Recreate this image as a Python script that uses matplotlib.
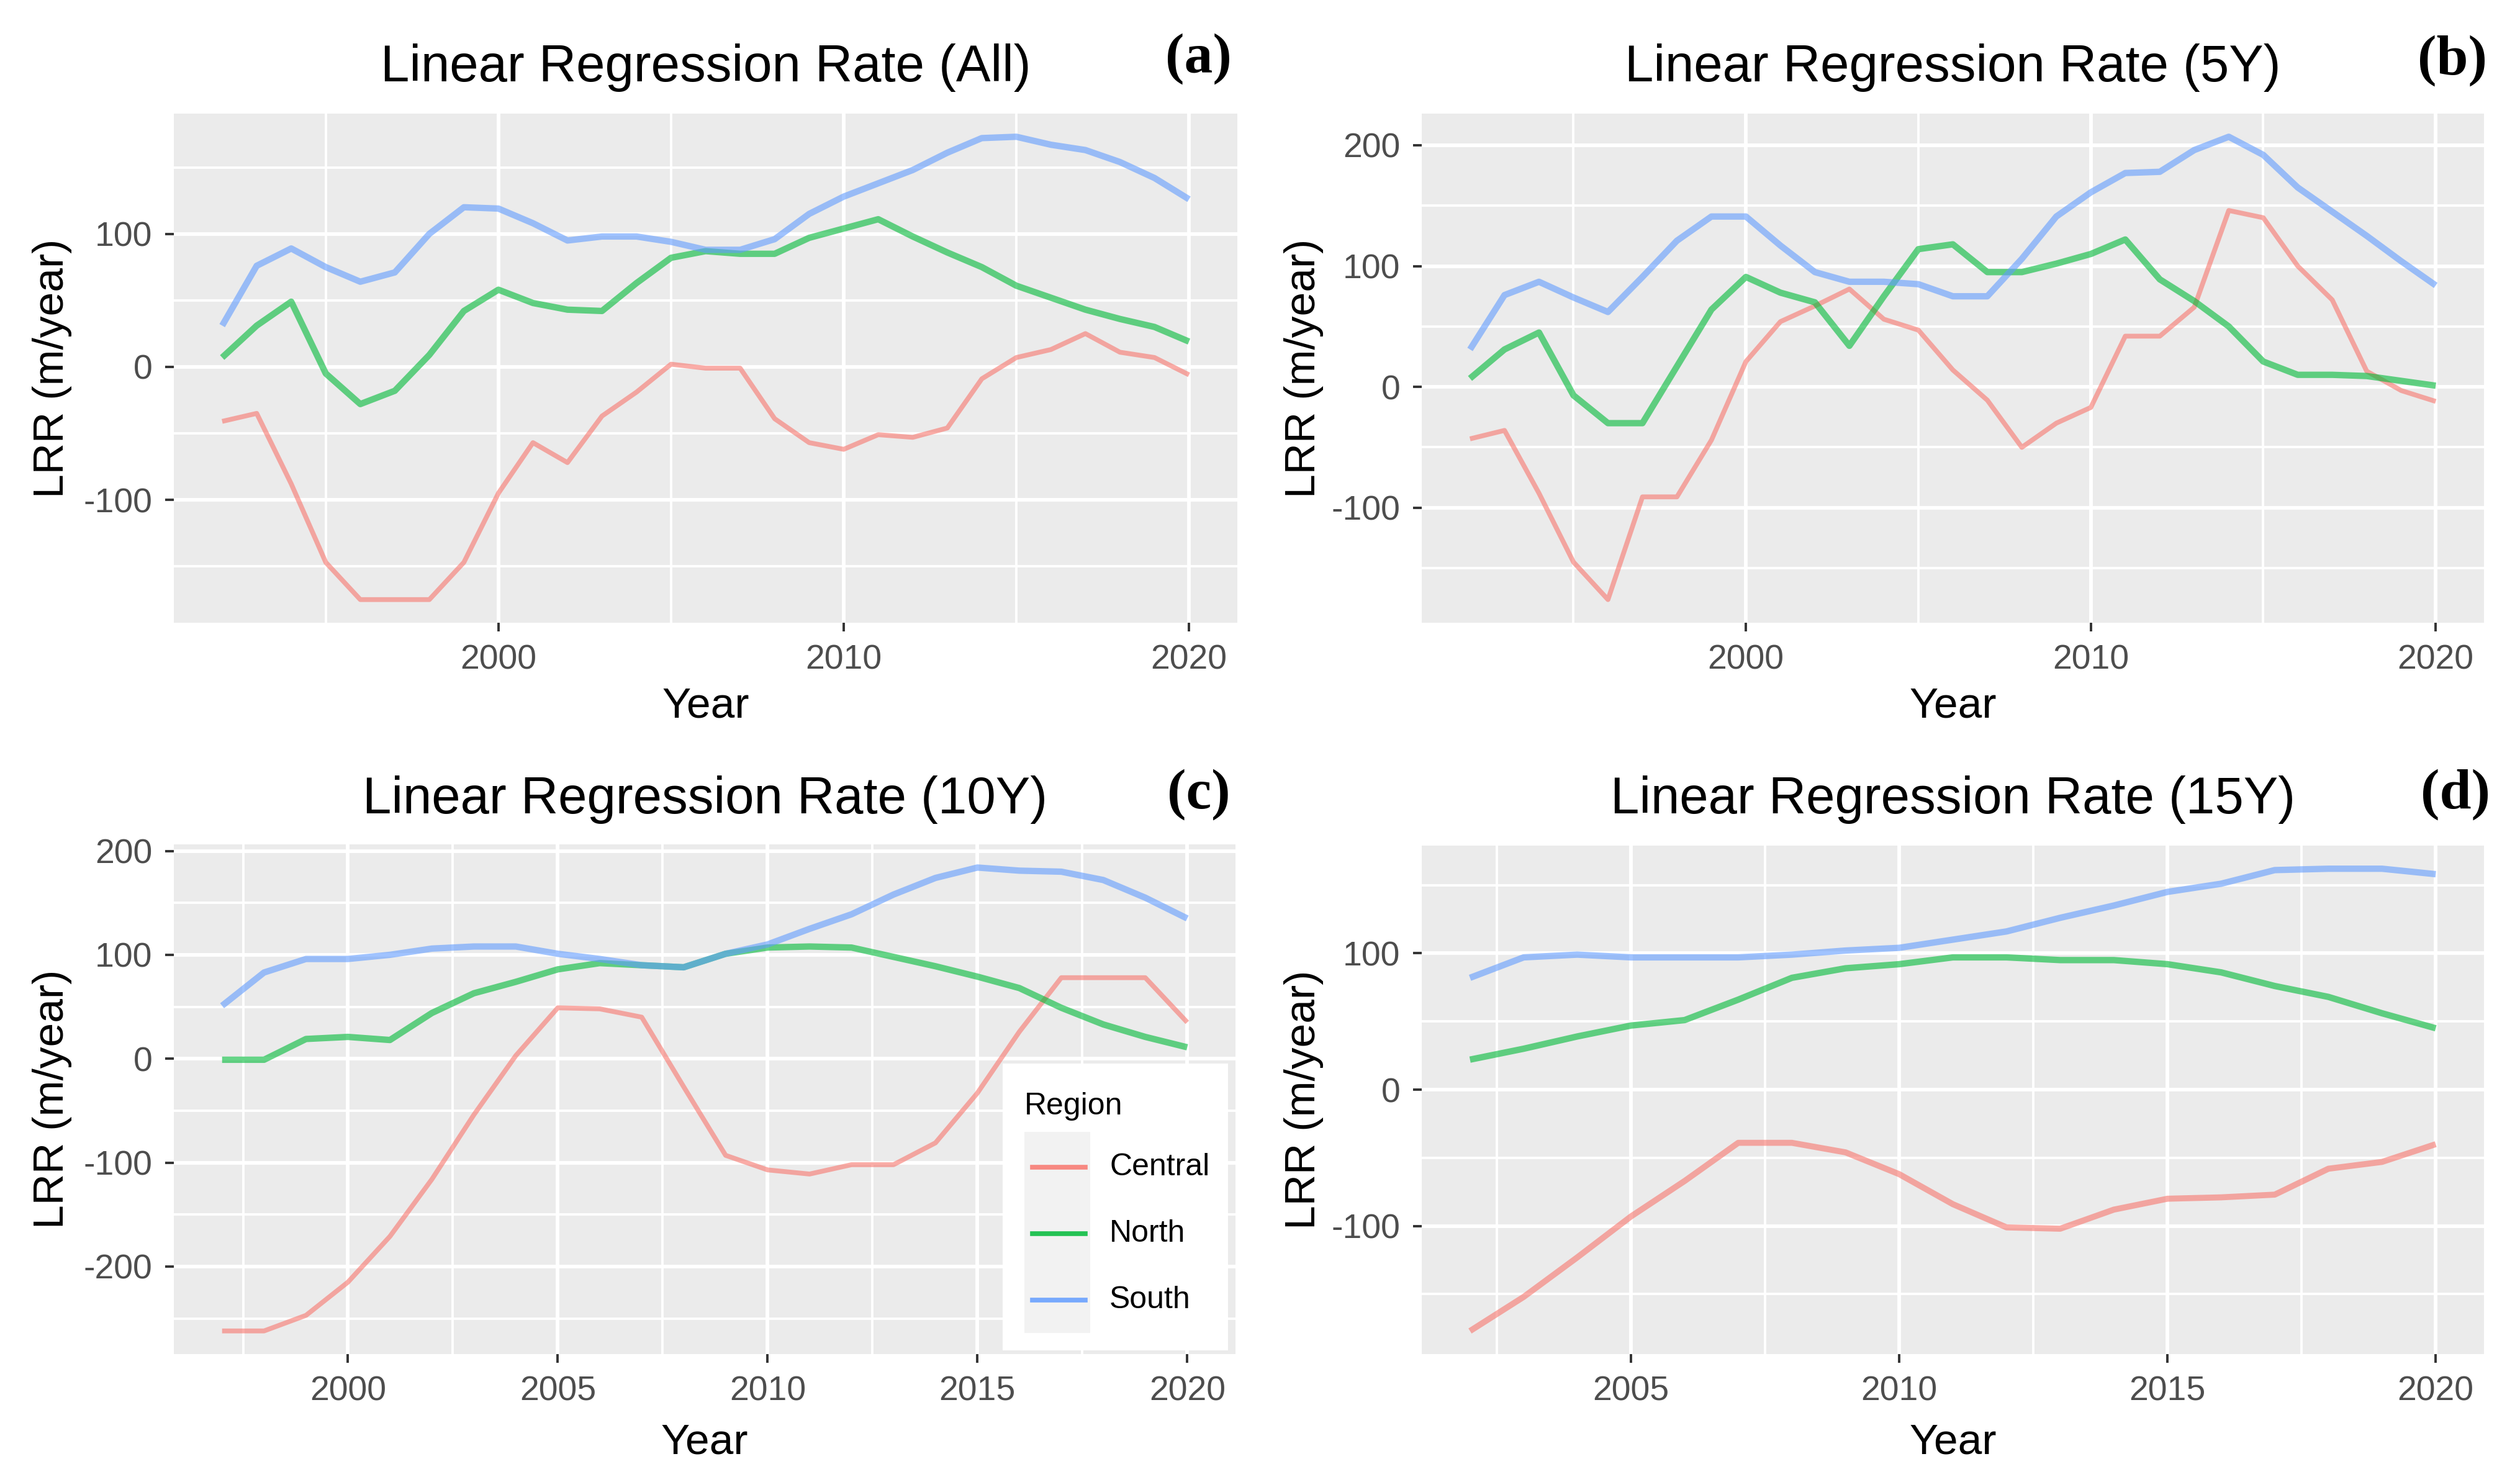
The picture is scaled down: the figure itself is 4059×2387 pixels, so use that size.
import matplotlib
matplotlib.use("Agg")
import matplotlib.pyplot as plt
from matplotlib.lines import Line2D
from matplotlib.patches import Rectangle
import numpy as np

# ---------------- data ----------------
regions = ["Central", "North", "South"]
colors = {"Central": "#F8766D", "North": "#00BA38", "South": "#619CFF"}

years_all = list(range(1992, 2021))
all_central = [-41, -35, -88, -147, -175, -175, -175, -147, -95, -57, -72, -37, -19, 2, -1, -1,
               -39, -57, -62, -51, -53, -46, -9, 7, 13, 25, 11, 7, -6]
all_north = [7, 31, 49, -5, -28, -18, 9, 42, 58, 48, 43, 42, 63, 82, 87, 85,
             85, 97, 104, 111, 98, 86, 75, 61, 52, 43, 36, 30, 19]
all_south = [31, 76, 89, 75, 64, 71, 100, 120, 119, 108, 95, 98, 98, 94, 88, 88,
             96, 115, 128, 138, 148, 161, 172, 173, 167, 163, 154, 142, 126]

years_5y = list(range(1992, 2021))
y5_central = [-43, -36, -88, -145, -176, -91, -91, -44, 21, 54, 67, 81, 56, 47, 14, -11,
              -50, -30, -17, 42, 42, 66, 146, 140, 100, 72, 13, -3, -12]
y5_north = [7, 31, 45, -7, -30, -30, 17, 64, 91, 78, 70, 34, 75, 114, 118, 95,
            95, 102, 110, 122, 89, 71, 50, 21, 10, 10, 9, 5, 1]
y5_south = [31, 76, 87, 74, 62, 91, 121, 141, 141, 117, 95, 87, 87, 85, 75, 75,
            106, 141, 161, 177, 178, 196, 207, 192, 165, 145, 125, 104, 84]

years_10y = list(range(1997, 2021))
y10_central = [-262, -262, -247, -215, -171, -116, -54, 3, 49, 48, 40, -27, -93, -107, -111, -102,
               -102, -81, -33, 26, 78, 78, 78, 35]
y10_north = [-1, -1, 19, 21, 18, 44, 63, 74, 86, 92, 90, 88, 101, 107, 108, 107,
             98, 89, 79, 68, 49, 33, 21, 11]
y10_south = [51, 83, 96, 96, 100, 106, 108, 108, 101, 96, 90, 88, 101, 110, 125, 139,
             158, 174, 184, 181, 180, 172, 155, 135]

years_15y = list(range(2002, 2021))
y15_central = [-177, -152, -123, -93, -67, -39, -39, -46, -62, -84, -101, -102, -88, -80, -79, -77,
               -58, -53, -40]
y15_north = [22, 30, 39, 47, 51, 66, 82, 89, 92, 97, 97, 95, 95, 92, 86, 76, 68, 56, 45]
y15_south = [82, 97, 99, 97, 97, 97, 99, 102, 104, 110, 116, 126, 135, 145, 151, 161, 162, 162, 158]

titles = ["Linear Regression Rate (All)", "Linear Regression Rate (5Y)",
          "Linear Regression Rate (10Y)", "Linear Regression Rate (15Y)"]
panel_tags = ["(a)", "(b)", "(c)", "(d)"]

x_major = [[2000, 2010, 2020], [2000, 2010, 2020],
           [2000, 2005, 2010, 2015, 2020], [2005, 2010, 2015, 2020]]
x_minor = [[1995, 2005, 2015], [1995, 2005, 2015],
           [1997.5, 2002.5, 2007.5, 2012.5, 2017.5], [2002.5, 2007.5, 2012.5, 2017.5]]
y_major = [[-100, 0, 100], [-100, 0, 100, 200],
           [-200, -100, 0, 100, 200], [-100, 0, 100]]
y_minor = [[-150, -50, 50, 150], [-150, -50, 50, 150],
           [-250, -150, -50, 50, 150], [-150, -50, 50, 150]]

panels = [
    (years_all, {"Central": all_central, "North": all_north, "South": all_south}),
    (years_5y, {"Central": y5_central, "North": y5_north, "South": y5_south}),
    (years_10y, {"Central": y10_central, "North": y10_north, "South": y10_south}),
    (years_15y, {"Central": y15_central, "North": y15_north, "South": y15_south}),
]

# ---------------- layout ----------------
W, H = 4059, 2387
DPI = 100
fig = plt.figure(figsize=(W / DPI, H / DPI), dpi=DPI)
fig.patch.set_facecolor("white")

FONT = ["Liberation Sans", "DejaVu Sans"]

def fx(x):
    return x / W

def fy(y):
    return 1 - y / H

boxes = [(280, 1993, 183, 1003), (2290, 4001, 183, 1003),
         (280, 1990, 1360, 2181), (2290, 4001, 1362, 2181)]
title_y = [109, 109, 1288, 1288]
tag_pos = [(1930, 95), (3950, 98), (1931, 1280), (3955, 1280)]
xlabel_y = [1138, 1138, 2323, 2323]
ylabel_x = [84, 2100, 84, 2100]

# line widths per panel: Central, North, South
lws = [
    {"Central": 5.6, "North": 7.4, "South": 7.4},
    {"Central": 5.6, "North": 7.4, "South": 7.4},
    {"Central": 5.6, "North": 7.4, "South": 7.4},
    {"Central": 7.0, "North": 7.4, "South": 7.4},
]

for i, (years, series) in enumerate(panels):
    l, r, t, b = boxes[i]
    ax = fig.add_axes([fx(l), fy(b), (r - l) / W, (b - t) / H])
    ax.set_facecolor("#EBEBEB")
    for s in ax.spines.values():
        s.set_visible(False)
    for reg in regions:
        ax.plot(years, series[reg], color=colors[reg], alpha=0.6, lw=lws[i][reg],
                solid_joinstyle="round", solid_capstyle="butt", zorder=3)
    allv = np.concatenate([np.asarray(series[k], float) for k in regions])
    lo, hi = allv.min(), allv.max()
    pad = 0.05 * (hi - lo)
    ax.set_ylim(lo - pad, hi + pad)
    xr = years[-1] - years[0]
    ax.set_xlim(years[0] - 0.05 * xr, years[-1] + 0.05 * xr)
    ax.set_xticks(x_major[i])
    ax.set_xticks(x_minor[i], minor=True)
    ax.set_yticks(y_major[i])
    ax.set_yticks(y_minor[i], minor=True)
    ax.grid(which="major", color="white", lw=4.2, zorder=1)
    ax.grid(which="minor", color="white", lw=2.8, zorder=1)
    ax.set_axisbelow(True)
    ax.tick_params(which="major", length=10, width=2.8, color="#333333",
                   labelsize=40, labelcolor="#4D4D4D", pad=15)
    ax.tick_params(which="minor", length=0)
    ax.set_yticklabels([str(v) for v in y_major[i]])
    for lab in ax.get_xticklabels() + ax.get_yticklabels():
        lab.set_fontfamily(FONT)

    cx = (l + r) / 2
    fig.text(fx(cx), fy(title_y[i]), titles[i], ha="center", va="center",
             fontsize=60, family=FONT, color="black")
    fig.text(fx(tag_pos[i][0]), fy(tag_pos[i][1]), panel_tags[i], ha="center", va="center",
             fontsize=66, fontweight="bold", family=["Liberation Serif", "DejaVu Serif"],
             color="black")
    fig.text(fx(cx), fy(xlabel_y[i]), "Year", ha="center", va="center",
             fontsize=50, family=FONT, color="black")
    fig.text(fx(ylabel_x[i]), fy((t + b) / 2), "LRR (m/year)", ha="center", va="center",
             rotation=90, fontsize=50, family=FONT, color="black")

# ---------------- legend (drawn inside panel c) ----------------
leg_l, leg_r, leg_t, leg_b = 1615, 1978, 1713, 2175
fig.patches.append(Rectangle((fx(leg_l), fy(leg_b)), (leg_r - leg_l) / W, (leg_b - leg_t) / H,
                             transform=fig.transFigure, facecolor="white", edgecolor="none",
                             zorder=5))
key_l, key_r, key_t, key_b = 1650, 1756, 1823, 2147
fig.patches.append(Rectangle((fx(key_l), fy(key_b)), (key_r - key_l) / W, (key_b - key_t) / H,
                             transform=fig.transFigure, facecolor="#F2F2F2", edgecolor="none",
                             zorder=6))
fig.text(fx(1650), fy(1782), "Region", ha="left", va="center", fontsize=36,
         family=FONT, color="black", zorder=7)
row_y = [1880, 1987, 2094]
for reg, yy in zip(regions, row_y):
    fig.lines.append(Line2D([fx(1663), fx(1748)], [fy(yy), fy(yy)], transform=fig.transFigure,
                            color=colors[reg], lw=5.5, alpha=0.85, zorder=7))
    fig.text(fx(1787), fy(yy), reg, ha="left", va="center", fontsize=36,
             family=FONT, color="black", zorder=7)

fig.savefig("out.png", dpi=DPI, facecolor="white")
